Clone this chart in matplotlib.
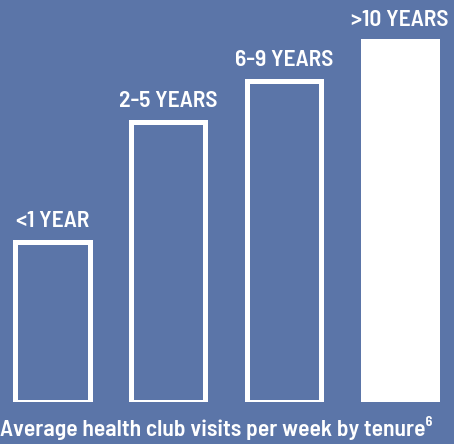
import matplotlib.pyplot as plt
import matplotlib.font_manager as fm

categories = ['<1 YEAR', '2-5 YEARS', '6-9 YEARS', '>10 YEARS']
visits = [1.2, 2.1, 2.4, 2.7]
filled = [False, False, False, True]
title = 'Average health club visits per week by tenure\u2076'

bg = '#5b75a8'


def pick_font():
	have = set(f.name for f in fm.fontManager.ttflist)
	for name in ['Barlow Semi Condensed', 'Roboto Condensed', 'Saira SemiCondensed', 'Barlow Condensed']:
		if name in have:
			return [name, 'DejaVu Sans']
	return ['DejaVu Sans']


def main():
	fam = pick_font()
	fig = plt.figure(figsize=(4.54, 4.44), dpi=100, facecolor=bg)
	ax = fig.add_axes([0, 42 / 444, 1, 402 / 444])
	ax.set_facecolor(bg)

	x = range(len(categories))
	for i, v in zip(x, visits):
		ax.bar(i, v, width=0.64, bottom=0,
			color='white' if filled[i] else 'none',
			edgecolor='white', linewidth=3.6)
		ax.annotate(categories[i], (i, v), xytext=(0, 10.8), textcoords='offset points',
			ha='center', va='baseline', color='white', fontsize=17,
			fontweight='semibold', family=fam)

	ax.set_xlim(-0.453, 3.467)
	ax.set_ylim(0, 3.01)
	ax.axis('off')

	fig.text(0.0, 0.036, title, ha='left', va='center', color='white',
		fontsize=17, fontweight='semibold', family=fam)

	fig.savefig('out.png', facecolor=bg)


if __name__ == '__main__':
	main()
